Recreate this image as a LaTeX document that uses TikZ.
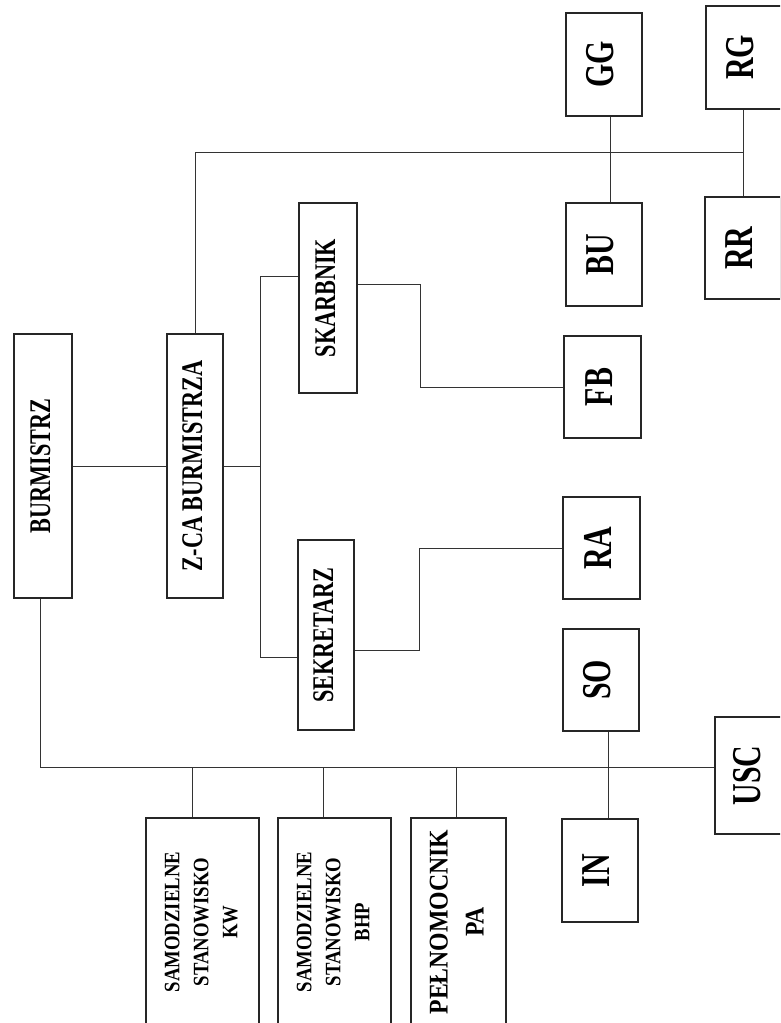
\documentclass[tikz,border=0pt]{standalone}
\usepackage{fontspec}
\setmainfont{Liberation Serif}
\usepackage{graphicx}
\newcommand{\vtxt}[4]{\rotatebox{90}{\fontsize{#1}{#2}\selectfont\bfseries\scalebox{#3}[1]{\begin{tabular}{@{}c@{}}#4\end{tabular}}}}
\begin{document}
\begin{tikzpicture}[x=1pt,y=-1pt,
  box/.style={draw=black!85, line width=1.1pt, fill=white, inner sep=0pt},
  conn/.style={draw=black!80, line width=0.9pt}]
\useasboundingbox (0,0) rectangle (780,1023);
\fill[white] (0,0) rectangle (780,1023);
\clip (0,0) rectangle (780,1023);

% boxes
\node[box, minimum width=58pt, minimum height=264pt] (bur) at (43,466) {\vtxt{30}{36}{0.74}{BURMISTRZ}};
\node[box, minimum width=56pt, minimum height=264pt] (zca) at (195,466) {\vtxt{30}{36}{0.74}{Z-CA BURMISTRZA}};
\node[box, minimum width=58pt, minimum height=190pt] (skar) at (328,298) {\vtxt{30}{36}{0.74}{SKARBNIK}};
\node[box, minimum width=56pt, minimum height=190pt] (sek) at (326,635) {\vtxt{30}{36}{0.74}{SEKRETARZ}};
\node[box, minimum width=76pt, minimum height=103pt] (gg) at (604,64.5) {\vtxt{41}{48}{0.73}{GG}};
\node[box, minimum width=76pt, minimum height=103pt] (bu) at (604,254.5) {\vtxt{41}{48}{0.73}{BU}};
\node[box, minimum width=77pt, minimum height=102pt] (fb) at (602.5,387) {\vtxt{41}{48}{0.73}{FB}};
\node[box, minimum width=77pt, minimum height=102pt] (ra) at (601.5,548) {\vtxt{41}{48}{0.73}{RA}};
\node[box, minimum width=76pt, minimum height=102pt] (so) at (601,680) {\vtxt{41}{48}{0.73}{SO}};
\node[box, minimum width=76pt, minimum height=103pt] (in) at (600,870.5) {\vtxt{41}{48}{0.73}{IN}};
\node[box, minimum width=76pt, minimum height=103pt] (rg) at (744,57.5) {\vtxt{41}{48}{0.73}{RG}};
\node[box, minimum width=76pt, minimum height=102pt] (rr) at (743,248) {\vtxt{41}{48}{0.73}{RR}};
\node[box, minimum width=72pt, minimum height=117pt] (usc) at (751,775.5) {\vtxt{41}{48}{0.73}{USC}};
\node[box, minimum width=113pt, minimum height=208pt] (kw) at (202.5,922) {\vtxt{22}{29}{0.85}{SAMODZIELNE\\STANOWISKO\\KW}};
\node[box, minimum width=113pt, minimum height=208pt] (bhp) at (334.5,922) {\vtxt{22}{29}{0.85}{SAMODZIELNE\\STANOWISKO\\BHP}};
\node[box, minimum width=95pt, minimum height=208pt] (pa) at (458.5,922) {\vtxt{27}{36}{0.88}{PEŁNOMOCNIK\\PA}};

% junction points
\coordinate (jz) at (260,466);
\coordinate (js) at (260,276);
\coordinate (je) at (260,657);
\coordinate (jt) at (743,152);
\coordinate (jg) at (610,152);
\coordinate (jf) at (420,284);
\coordinate (jr) at (419,650);
\coordinate (jb) at (40,767);
\coordinate (d1) at (192,767);
\coordinate (d2) at (323,767);
\coordinate (d3) at (456,767);
\coordinate (jo) at (608,767);

% connectors
\draw[conn] (bur.east) -- (zca.west);
\draw[conn] (zca.east) -- (jz);
\draw[conn] (skar.west |- js) -- (js) -- (je) -- (sek.west |- je);
\draw[conn] (zca.north) -- (zca.north |- jt) -- (jt);
\draw[conn] (gg.south -| jg) -- (bu.north -| jg);
\draw[conn] (rg.south -| jt) -- (rr.north -| jt);
\draw[conn] (skar.east |- jf) -- (jf) -- (jf |- fb.west) -- (fb.west);
\draw[conn] (sek.east |- jr) -- (jr) -- (jr |- ra.west) -- (ra.west);
\draw[conn] (bur.south -| jb) -- (jb) -- (jb -| usc.west);
\draw[conn] (d1) -- (d1 |- kw.north);
\draw[conn] (d2) -- (d2 |- bhp.north);
\draw[conn] (d3) -- (d3 |- pa.north);
\draw[conn] (so.south -| jo) -- (in.north -| jo);
\end{tikzpicture}
\end{document}
